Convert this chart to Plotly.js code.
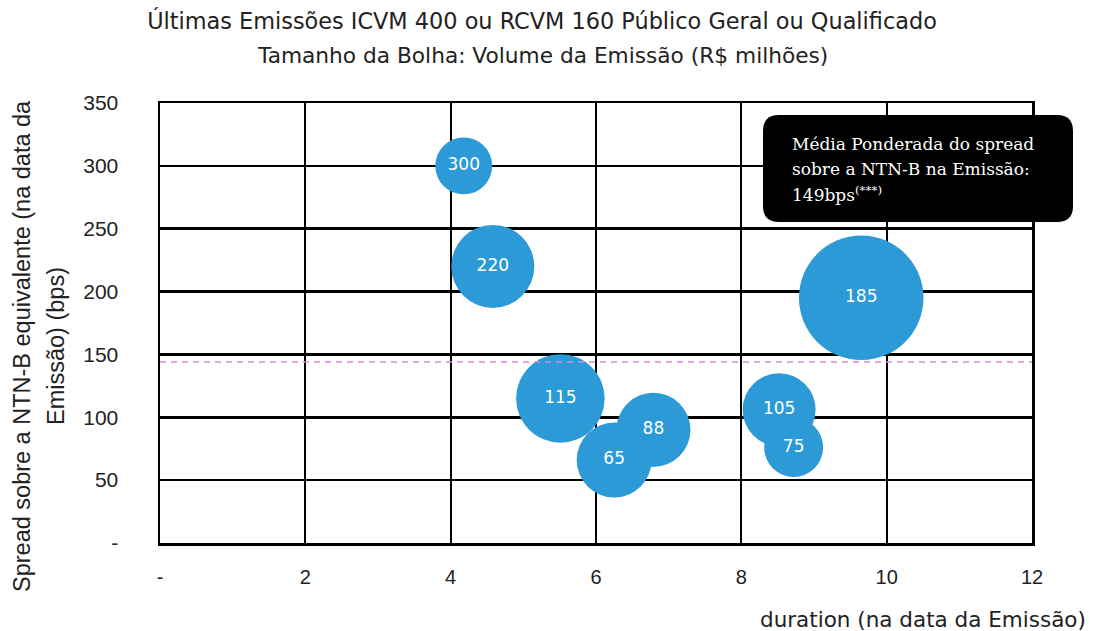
<!DOCTYPE html>
<html>
<head>
<meta charset="utf-8">
<script src="https://cdn.plot.ly/plotly-3.0.1.min.js"></script>
<style>html,body{margin:0;padding:0;background:#fff;}#chart{width:1096px;height:631px;}</style>
</head>
<body>
<div id="chart"></div>
<script>
// ---- data ----
const duration = [4.18, 4.58, 5.51, 6.79, 6.25, 8.52, 8.72, 9.65];
const spread = [300, 220, 115, 90, 66, 106, 76, 195];
const spreadLabels = ['300', '220', '115', '88', '65', '105', '75', '185'];
const volume = [162, 344, 392, 275, 281, 266, 174, 775]; // R$ milhões
const weightedAvgX = [0, 12];
const weightedAvgY = [144, 144];
const yTickVals = [0, 50, 100, 150, 200, 250, 300, 350];
const yTickText = ['-', '50', '100', '150', '200', '250', '300', '350'];
const xTickVals = [0, 2, 4, 6, 8, 10, 12];
const xTickText = ['-', '2', '4', '6', '8', '10', '12'];
const boxLines = ['Média Ponderada do spread', 'sobre a NTN-B na Emissão:', '149bps<sup>(***)</sup>'];

// ---- layout helpers ----
const W = 1096, H = 631;
const M = {l: 160, r: 64, t: 103, b: 88};
const PW = W - M.l - M.r, PH = H - M.t - M.b;
const px = x => (x - M.l) / PW;
const py = y => (H - M.b - y) / PH;

function roundRect(x0, y0, x1, y1, r) {
  const X0 = px(x0), X1 = px(x1), Y0 = py(y1), Y1 = py(y0);
  const rx = r / PW, ry = r / PH;
  return `M${X0+rx},${Y0} L${X1-rx},${Y0} Q${X1},${Y0} ${X1},${Y0+ry} L${X1},${Y1-ry} Q${X1},${Y1} ${X1-rx},${Y1} L${X0+rx},${Y1} Q${X0},${Y1} ${X0},${Y1-ry} L${X0},${Y0+ry} Q${X0},${Y0} ${X0+rx},${Y0} Z`;
}

const bubbles = {
  type: 'scatter', mode: 'markers+text',
  x: duration, y: spread, text: spreadLabels,
  textposition: 'middle center',
  textfont: {family: 'DejaVu Sans', size: 17, color: '#ffffff'},
  marker: {size: volume, sizemode: 'area', sizeref: 0.1, color: '#2b9ad6', line: {width: 0}, opacity: 1},
  hoverinfo: 'x+y+text', showlegend: false, cliponaxis: false
};
const avgLine = {
  type: 'scatter', mode: 'lines', x: weightedAvgX, y: weightedAvgY,
  line: {color: '#d98ad9', width: 1.5, dash: '6px,5px'}, showlegend: false, hoverinfo: 'skip'
};

const annotations = [
  {text: 'Tamanho da Bolha: Volume da Emissão (R$ milhões)', xref: 'paper', yref: 'paper',
   x: px(542), y: py(56), xanchor: 'center', yanchor: 'middle', showarrow: false,
   font: {family: 'DejaVu Sans', size: 21.7, color: '#222'}},
  {text: 'Spread sobre a NTN-B equivalente (na data da', xref: 'paper', yref: 'paper',
   x: px(22), y: py(346), xanchor: 'center', yanchor: 'middle', textangle: -90, showarrow: false,
   font: {family: 'Liberation Sans', size: 23.5, color: '#222'}},
  {text: 'Emissão) (bps)', xref: 'paper', yref: 'paper',
   x: px(56), y: py(346), xanchor: 'center', yanchor: 'middle', textangle: -90, showarrow: false,
   font: {family: 'Liberation Sans', size: 23.5, color: '#222'}},
  {text: 'duration (na data da Emissão)', xref: 'paper', yref: 'paper',
   x: px(1088), y: py(619), xanchor: 'right', yanchor: 'middle', showarrow: false,
   font: {family: 'DejaVu Sans', size: 21.5, color: '#222'}}
];
boxLines.forEach((t, i) => {
  annotations.push({text: t, xref: 'paper', yref: 'paper', x: px(790), y: py(144 + i * 25),
    xanchor: 'left', yanchor: 'middle', showarrow: false, align: 'left',
    font: {family: 'DejaVu Serif', size: 17, color: '#ffffff'}});
});

const layout = {
  width: W, height: H, margin: M,
  paper_bgcolor: '#ffffff', plot_bgcolor: '#ffffff',
  title: {text: 'Últimas Emissões ICVM 400 ou RCVM 160 Público Geral ou Qualificado',
    x: 542 / W, xanchor: 'center', xref: 'container', y: 1 - 21 / H, yanchor: 'middle', yref: 'container',
    font: {family: 'DejaVu Sans', size: 22.4, color: '#222'}},
  xaxis: {range: [0, 12], tickvals: xTickVals, ticktext: xTickText,
    showgrid: true, gridcolor: '#000', gridwidth: 2, zeroline: false,
    showline: true, linecolor: '#000', linewidth: 2.5, mirror: true,
    ticks: 'outside', ticklen: 14, tickcolor: 'rgba(0,0,0,0)',
    tickfont: {family: 'Liberation Sans', size: 20, color: '#222'}, fixedrange: true},
  yaxis: {range: [0, 350], tickvals: yTickVals, ticktext: yTickText,
    showgrid: true, gridcolor: '#000', gridwidth: 2.5, zeroline: false,
    showline: true, linecolor: '#000', linewidth: 2.5, mirror: true,
    ticks: 'outside', ticklen: 35, tickcolor: 'rgba(0,0,0,0)',
    tickfont: {family: 'Liberation Sans', size: 21, color: '#222'}, fixedrange: true},
  shapes: [{type: 'path', xref: 'paper', yref: 'paper', path: roundRect(763, 115, 1073, 222, 16),
    fillcolor: '#000', line: {width: 0}, layer: 'above'}],
  annotations: annotations
};

Plotly.newPlot('chart', [bubbles, avgLine], layout, {displayModeBar: false, staticPlot: true});
</script>
</body>
</html>
